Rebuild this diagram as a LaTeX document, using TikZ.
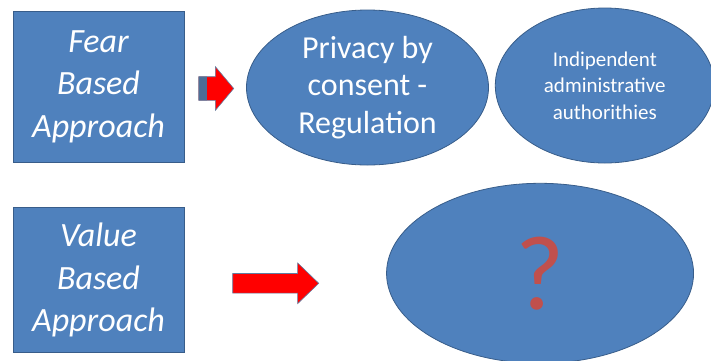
\documentclass[tikz,border=0pt]{standalone}
\usepackage{fontspec}
\setmainfont{Carlito}
\usetikzlibrary{positioning,shapes.geometric,shapes.arrows}

\definecolor{boxblue}{HTML}{4F81BD}
\definecolor{edgeblue}{HTML}{385D8A}
\definecolor{qred}{HTML}{C0504D}

\tikzstyle{box} = [rectangle, minimum width=171pt, text centered, fill=boxblue, draw=edgeblue, line width=0.8pt, text=white, align=center, inner sep=0pt, font={\fontsize{34}{42.5}\selectfont\itshape}]
\tikzstyle{oval} = [ellipse, fill=boxblue, draw=edgeblue, line width=0.8pt, text=white, align=center, inner sep=0pt]
\tikzstyle{bigarrow} = [single arrow, fill=red, draw=edgeblue!80, line width=0.6pt, inner xsep=0pt, single arrow head indent=0pt]

\begin{document}
\begin{tikzpicture}[x=1pt, y=-1pt]
  \useasboundingbox (0,0) rectangle (711,360);

  \node (Fear Based) [box, minimum height=151pt] at (98.5,86.5) {Fear\\ Based\\ Approach};
  \node (Fear Arrow) [bigarrow, minimum height=35pt, inner ysep=11.5pt, single arrow head extend=10pt, single arrow tip angle=100, right=14pt of Fear Based, yshift=-2pt,
    path picture={\fill[edgeblue!90] (path picture bounding box.north west) rectangle ++(8pt,-50pt);}] {};
  \node (Privacy) [oval, minimum width=242pt, minimum height=155pt, right=12pt of Fear Arrow, yshift=1pt, font={\fontsize{32}{37.5}\selectfont}] {Privacy by\\ consent -\\ Regulation};
  \node (Authorities) [oval, minimum width=219pt, minimum height=155pt, right=6pt of Privacy, yshift=2pt, font={\fontsize{21}{26.5}\selectfont}] {Indipendent\\ administrative\\ authorithies};

  \node (Value Based) [box, minimum height=145pt, below=45pt of Fear Based] {Value\\ Based\\ Approach};
  \node (Value Arrow) [bigarrow, minimum height=86pt, inner ysep=9.5pt, single arrow head extend=10.5pt, single arrow tip angle=88, right=48pt of Value Based, yshift=-3pt] {};
  \node (Unknown) [oval, minimum width=307pt, minimum height=180pt, right=67pt of Value Arrow, yshift=10pt, text=qred, font={\fontsize{106}{106}\selectfont}] {?};
\end{tikzpicture}
\end{document}
